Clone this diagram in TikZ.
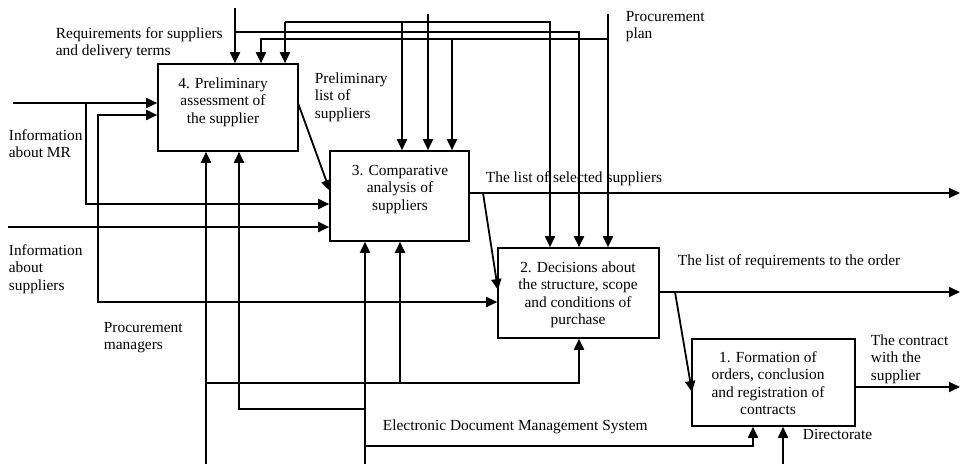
\documentclass[tikz,border=0pt]{standalone}
\usepackage{fontspec}
\setmainfont{Liberation Serif}
\usetikzlibrary{arrows.meta}
\begin{document}
\begin{tikzpicture}[x=1pt,y=-1pt,
  line width=1.8pt,
  arr/.style={-{Triangle[length=11pt,width=10pt]}},
  proc/.style={draw, rectangle, inner sep=0pt, line width=1.6pt},
  lbl/.style={inner sep=0pt, anchor=base west, align=left,
    font=\fontsize{15.4}{17.5}\selectfont},
  btxt/.style={inner sep=0pt, anchor=base, align=center,
    font=\fontsize{15.4}{17.5}\selectfont}]
\useasboundingbox (0,0) rectangle (961,464);

% function blocks
\node[proc, minimum width=140pt, minimum height=87pt] (b4) at (228,107.5) {};
\node[proc, minimum width=139pt, minimum height=90pt] (b3) at (399.5,196) {};
\node[proc, minimum width=161pt, minimum height=90pt] (b2) at (578.5,293) {};
\node[proc, minimum width=163pt, minimum height=87pt] (b1) at (773.5,382.5) {};

% block captions (anchored at the baseline of their last line)
\node[btxt] (t4) at (223,123) {4. Preliminary\\assessment of\\the supplier};
\node[btxt] (t3) at (400,210) {3. Comparative\\analysis of\\suppliers};
\node[btxt] (t2) at (578,324.5) {2. Decisions about\\the structure, scope\\and conditions of\\purchase};
\node[btxt] (t1) at (768,414.5) {1. Formation of\\orders, conclusion\\and registration of\\contracts};

% free ends of the external arrows
\coordinate (reqtop) at (235,8);
\coordinate (midtop) at (428,14);
\coordinate (plantop) at (608,14);
\coordinate (mrin) at (13,103);
\coordinate (supin) at (8,227);
\coordinate (pmin) at (206,464);
\coordinate (edmin) at (365,464);
\coordinate (dirin) at (783,464);
\coordinate (out3) at (960,193);
\coordinate (out2) at (960,292);
\coordinate (out1) at (960,387);

% bends of the branching arrows
\coordinate (creqa) at (235,32);
\coordinate (creqb) at (579,32);
\coordinate (caa) at (285,22);
\coordinate (cab) at (550,22);
\coordinate (cac) at (402,22);
\coordinate (cpa) at (608,39);
\coordinate (cpb) at (261,39);
\coordinate (cpc) at (452,39);
\coordinate (cma) at (86,103);
\coordinate (cmb) at (86,204);
\coordinate (csa) at (98,227);
\coordinate (csb) at (98,115);
\coordinate (csc) at (98,302);
\coordinate (cba) at (206,383);
\coordinate (cbb) at (579,383);
\coordinate (cbc) at (400,383);
\coordinate (cea) at (365,409);
\coordinate (ceb) at (239,409);
\coordinate (cec) at (365,446);
\coordinate (ced) at (753,446);
\coordinate (d4s) at (298,103);
\coordinate (d4e) at (330,191);
\coordinate (d3s) at (483,193);
\coordinate (d3e) at (498,290);
\coordinate (d2s) at (675,292);
\coordinate (d2e) at (692,392);

% controls from the top
\draw[arr] (reqtop) -- (reqtop |- b4.north);
\draw[arr] (creqa) -- (creqb) -- (creqb |- b2.north);
\draw[arr] (midtop) -- (midtop |- b3.north);
\draw[arr] (plantop) -- (plantop |- b2.north);
\draw[arr] (cpa) -- (cpb) -- (cpb |- b4.north);
\draw[arr] (cpc) -- (cpc |- b3.north);
\draw[arr] (caa) -- (caa |- b4.north);
\draw[arr] (caa) -- (cab) -- (cab |- b2.north);
\draw[arr] (cac) -- (cac |- b3.north);

% inputs from the left
\draw[arr] (mrin) -- (mrin -| b4.west);
\draw[arr] (cma) -- (cmb) -- (cmb -| b3.west);
\draw[arr] (supin) -- (supin -| b3.west);
\draw[arr] (csa) -- (csb) -- (csb -| b4.west);
\draw[arr] (csa) -- (csc) -- (csc -| b2.west);

% links between the blocks
\draw[arr] (d4s) -- (d4e);
\draw[arr] (d3s) -- (d3e);
\draw[arr] (d2s) -- (d2e);

% outputs
\draw[arr] (b3.east |- out3) -- (out3);
\draw[arr] (b2.east |- out2) -- (out2);
\draw[arr] (b1.east |- out1) -- (out1);

% mechanisms from the bottom
\draw[arr] (pmin) -- (pmin |- b4.south);
\draw[arr] (cba) -- (cbb) -- (cbb |- b2.south);
\draw[arr] (cbc) -- (cbc |- b3.south);
\draw[arr] (edmin) -- (edmin |- b3.south);
\draw[arr] (cea) -- (ceb) -- (ceb |- b4.south);
\draw[arr] (cec) -- (ced) -- (ced |- b1.south);
\draw[arr] (dirin) -- (dirin |- b1.south);

% labels (anchored at the baseline of their last line)
\node[lbl] (lreq) at (55,55.5) {Requirements for suppliers\\and delivery terms};
\node[lbl] (lmr) at (8,157.5) {Information\\about MR};
\node[lbl] (lsup) at (8,290) {Information\\about\\suppliers};
\node[lbl] (lpre) at (314,118) {Preliminary\\list of\\suppliers};
\node[lbl] (lplan) at (625,38.5) {Procurement\\plan};
\node[lbl] (lsel) at (485,182) {The list of selected suppliers};
\node[lbl] (lord) at (677,265) {The list of requirements to the order};
\node[lbl] (lcon) at (870,380) {The contract\\with the\\supplier};
\node[lbl] (lpm) at (103,349.5) {Procurement\\managers};
\node[lbl] (ledm) at (382,430) {Electronic Document Management System};
\node[lbl] (ldir) at (802,439) {Directorate};
\end{tikzpicture}
\end{document}
